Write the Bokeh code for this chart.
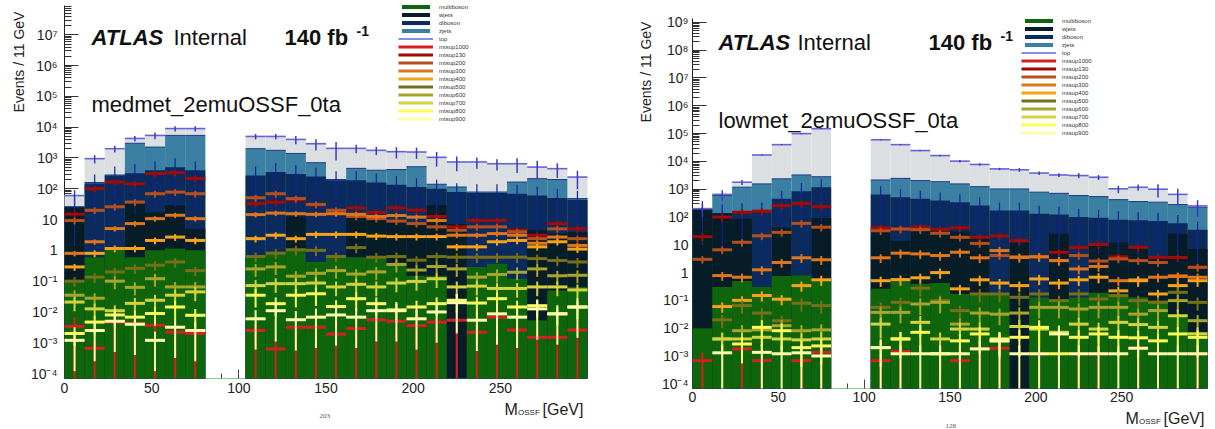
import numpy as np
from bokeh.plotting import figure
from bokeh.layouts import row, column
from bokeh.models import (ColumnDataSource, FixedTicker, Label, Legend, LegendItem, Range1d)
from bokeh.embed import file_html
from bokeh.resources import INLINE

nan = float("nan")

# ---------------- data ----------------
n_bins = 26
x_max = 300.0

bkg_names = ["multiboson", "wjets", "diboson", "zjets", "top"]
bkg_colors = ["#0e650c", "#061c27", "#0b2b5f", "#3b80a2", "#dcdfe2"]
sig_names = ["mtsup1000", "mtsup130", "mtsup200", "mtsup300", "mtsup400",
             "mtsup500", "mtsup600", "mtsup700", "mtsup800", "mtsup900"]
sig_colors = ["#d42020", "#9e0b0b", "#b5501e", "#e0761c", "#f7a21b",
              "#76701a", "#a7a52a", "#d3d33e", "#fbfb5a", "#fdfdaa"]

# medmet_2emuOSSF_0ta (left)
med_multiboson = [0.1, 0.6, 1.15, 0.6, 1.0, 1.15, 1.0, 0, 0, 0.7, 0.9, 1.0, 0.42, 0.7, 0.6, 0.6, 0.37, 0.15, 0.15, 0, 0.29, 0.37, 0.12, 0.0054, 0.05, 0.065]
med_wjets = [25, 0, 0, 32, 16, 28, 4, 0, 0, 0, 0, 11.6, 0, 0, 13.4, 10.4, 8.6, 7.9, 29, 7, 0, 0, 0, 4.5, 3.5, 3.9]
med_diboson = [1, 149, 269, 287, 383, 471, 395, 0, 0, 269, 349, 287, 250, 189, 176, 149, 126, 106, 71, 71, 72, 72, 69, 56, 47, 40]
med_zjets = [0, 10, 10, 2680, 1850, 4900, 5000, 0, 0, 1730, 1420, 1100, 450, 10, 270, 240, 285, 406, 40, 36, 6, 6, 96, 152, 149, 4]
med_top = [34, 790, 1720, 1300, 3150, 3600, 3600, 0, 0, 3000, 3230, 2600, 2200, 1850, 1590, 1370, 1180, 1040, 910, 626, 662, 572, 485, 293, 250, 192]
med_total_relerr = [0.5, 0.3, 0.25, 0.2, 0.25, 0.2, 0.2, nan, nan, 0.2, 0.2, 0.3, 0.4, 0.6, 0.3, 0.3, 0.4, 0.4, 0.5, 0.5, 0.4, 0.4, 0.5, 0.6, 0.5, 0.6]

med_mtsup1000 = [0.0034, 0.00066, 0.0047, 0.0043, 0.0037, 0.0022, 0.002, nan, nan, 0.0025, 0.00063, 0.0032, 0.0032, 0.0019, 0.0029, 0.0056, 0.005, 0.0036, 0.0047, 0.0054, 0.0022, 0.0068, 0.0026, 0.0015, 0.0015, 0.0026]
med_mtsup130 = [15, 100, 165, 145, 310, 330, 215, nan, nan, 33, 37, 44, 30, 17, 24, 17, 24, 20, 12.6, 5.8, 9.3, 9.3, 4.5, 3.1, 7.4, 5.0]
med_mtsup200 = [9.3, 20, 26, 37, 69, 78, 69, nan, nan, 51, 69, 48, 31, 20, 12.6, 10.7, 8.9, 7.4, 5.8, 4.5, 5.8, 5.8, 4.0, 2.4, 5.0, 2.4]
med_mtsup300 = [0.8, 1.9, 5.1, 7.4, 10.7, 13.8, 10.7, nan, nan, 14.5, 16.2, 15.5, 14.8, 15.5, 14.8, 12.6, 13.5, 12.0, 9.3, 3.1, 3.1, 3.5, 3.1, 1.7, 2.7, 1.45]
med_mtsup400 = [0.29, 0.8, 1.15, 1.15, 2.1, 2.7, 2.1, nan, nan, 2.4, 3.1, 2.4, 3.3, 3.3, 3.3, 2.9, 2.8, 2.8, 2.8, 1.3, 1.3, 1.9, 2.1, 1.3, 1.9, 1.1]
med_mtsup500 = [0.1, 0.135, 0.2, 0.26, 0.33, 0.42, 0.22, nan, nan, 0.63, 0.81, 1.05, 1.0, 0.63, 1.23, 0.6, 0.63, 0.48, 0.63, 0.6, 0.6, 0.6, 0.6, 0.54, 0.47, 0.42]
med_mtsup600 = [0.035, 0.028, 0.1, 0.063, 0.12, 0.065, 0.065, nan, nan, 0.25, 0.29, 0.145, 0.18, 0.22, 0.17, 0.2, 0.35, 0.23, 0.3, 0.25, 0.135, 0.165, 0.195, 0.25, 0.15, 0.155]
med_mtsup700 = [0.021, 0.0126, 0.011, 0.019, 0.024, 0.035, 0.045, nan, nan, 0.072, 0.083, 0.083, 0.087, 0.065, 0.079, 0.065, 0.087, 0.098, 0.12, 0.065, 0.069, 0.058, 0.058, 0.065, 0.065, 0.052]
med_mtsup800 = [0.002, 0.0047, 0.008, 0.0068, 0.0089, 0.0145, 0.0078, nan, nan, 0.035, 0.0186, 0.035, 0.039, 0.015, 0.027, 0.0186, 0.0117, 0.0145, 0.0186, 0.024, 0.0195, 0.027, 0.0145, 0.016, 0.0087, 0.0145]
med_mtsup900 = [0.0012, 0.0025, 0.005, 0.004, 0.0012, 0.0032, 0.0025, nan, nan, 0.006, 0.011, 0.0056, 0.0068, 0.008, 0.0068, 0.011, 0.011, 0.006, 0.01, 0.02, 0.0054, 0.0087, 0.0068, 0.0126, 0.0087, 0.0145]
med_sig_relerr = [1.0, 0.25, 0.25, 0.2, 0.25, 0.35, 0.45, 0.5, 0.6, 0.9]

# lowmet_2emuOSSF_0ta (right)
low_multiboson = [0.01, 0.3, 0.5, 0.3, 0.75, 0.8, 0.5, 0, 0, 0.26, 0.5, 0.4, 0.42, 0.17, 0.18, 0.17, 0, 0.13, 0.1, 0.13, 0.19, 0.17, 0.13, 0.1, 0.025, 0.007]
low_wjets = [185, 130, 85, 0, 42, 0, 92, 0, 0, 37, 13.5, 32, 32, 30, 16, 0, 12, 0, 25, 0, 8.8, 12, 8.9, 3.4, 25, 7]
low_diboson = [7, 10, 75, 170, 408, 850, 1090, 0, 0, 613, 497, 418, 358, 310, 241, 170, 158, 130, 98, 100, 84, 68, 67, 68, 35, 28]
low_zjets = [3, 450, 1020, 1380, 1900, 2400, 1620, 0, 0, 1490, 1940, 1590, 1470, 1210, 973, 850, 850, 650, 587, 490, 447, 340, 284, 269, 220, 190]
low_top = [5, 60, 600, 15450, 37650, 96750, 147200, 0, 0, 57860, 37550, 22460, 14340, 8650, 6530, 4350, 3980, 3020, 2530, 2500, 2150, 610, 810, 660, 370, 25]
low_total_relerr = [0.5, 0.4, 0.2, 0.05, 0.05, 0.05, 0.05, nan, nan, 0.05, 0.05, 0.05, 0.08, 0.1, 0.1, 0.1, 0.15, 0.15, 0.15, 0.2, 0.2, 0.3, 0.25, 0.5, 0.6, 0.6]

low_mtsup1000 = [0.00068, nan, 0.0018, 0.00068, nan, 0.00068, 0.00135, nan, nan, 0.00068, 0.00145, nan, nan, 0.00068, 0.0018, 0.0019, nan, 0.0012, nan, 0.0012, 0.0012, nan, 0.0019, nan, nan, 0.0012]
low_mtsup130 = [19.5, 100, 148, 162, 257, 309, 234, nan, nan, 41, 36, 43, 36, 41, 18.6, 21, 14, 3.7, 5.4, 8.1, 10.2, 3.7, 8.1, 3.5, 3.5, 1.55]
low_mtsup200 = [3.0, 6.6, 12.3, 21, 28, 59, 43, nan, nan, 32, 37, 35, 26, 18.6, 11.2, 4.1, 3.7, 3.7, 2.7, 4.1, 2.6, 3.1, 2.7, 2.3, 0.78, 1.55]
low_mtsup300 = [nan, 0.78, 0.68, 1.26, 2.3, 3.4, 2.9, nan, nan, 3.4, 5.0, 4.7, 4.1, 5.4, 3.4, 6.2, 3.5, 3.7, 2.7, 1.35, 1.66, 0.51, 0.55, 0.68, 0.72, 0.68]
low_mtsup400 = [nan, 0.06, 0.1, 0.15, 0.11, 0.34, 0.55, nan, nan, 0.51, 0.56, 0.65, 1.0, 0.26, 0.55, 0.42, 0.34, 0.59, 0.42, 0.55, 0.68, 0.22, 0.51, 0.17, 0.34, 0.51]
low_mtsup500 = [nan, 0.02, 0.065, 0.035, 0.0186, 0.079, 0.065, nan, nan, 0.056, 0.085, 0.275, 0.098, 0.043, 0.17, 0.17, 0.129, 0.17, 0.098, 0.17, 0.112, 0.148, 0.098, 0.085, 0.195, 0.085]
low_mtsup600 = [nan, 0.0041, 0.0081, 0.0087, 0.0123, 0.0081, 0.0087, nan, nan, 0.037, 0.037, 0.074, 0.085, 0.014, 0.035, 0.032, 0.035, 0.056, 0.056, 0.049, 0.056, 0.056, 0.032, 0.043, 0.098, 0.0186]
low_mtsup700 = [nan, 0.0041, 0.0041, 0.0047, 0.0041, 0.0038, 0.0041, nan, nan, 0.014, 0.0041, 0.0162, 0.0041, 0.0093, 0.0093, 0.0035, 0.0115, 0.0093, 0.0071, 0.014, 0.0093, 0.0162, 0.0135, 0.0107, 0.028, 0.0063]
low_mtsup800 = [nan, nan, 0.0027, 0.0107, 0.0081, 0.002, 0.0023, nan, nan, 0.002, 0.0041, 0.0071, 0.0012, 0.0035, 0.0062, 0.0041, 0.0047, 0.0107, 0.0012, 0.0047, 0.0062, 0.0047, 0.0045, 0.0035, 0.0062, 0.0047]
low_mtsup900 = [nan, 0.0013, nan, 0.00135, 0.0012, 0.0013, 0.001, nan, nan, 0.002, 0.0012, 0.0012, 0.0012, 0.0012, 0.0018, 0.0035, 0.0012, 0.0012, 0.0062, 0.0012, 0.0012, 0.0012, 0.0019, 0.0012, 0.0012, 0.0012]
low_sig_relerr = [1.0, 0.3, 0.3, 0.35, 0.4, 0.5, 0.6, 0.7, 0.8, 1.0]

y_major_exponents = list(range(-4, 10))
x_major_ticks = [0, 50, 100, 150, 200, 250]

FONT = "Liberation Sans"
SUP = str.maketrans("-0123456789", "⁻⁰¹²³⁴⁵⁶⁷⁸⁹")
LVL = "annotation"   # histograms are drawn above the axis ticks, as ROOT does


def exp_label(k):
    if k == 0:
        return "1"
    if k == 1:
        return "10"
    return "10" + str(k).translate(SUP)


def add_label(p, text, x, y, size, style="normal", font=FONT, color="#111", align="left",
              baseline="alphabetic", **kw):
    p.add_layout(Label(x=x, y=y, x_units="screen", y_units="screen", text=text,
                       text_font=font, text_font_size=size, text_font_style=style,
                       text_color=color, text_baseline=baseline, text_align=align, **kw))


def text_fig(w, h):
    f = figure(width=w, height=h, x_range=Range1d(0, 1), y_range=Range1d(0, 1),
               x_axis_location=None, y_axis_location=None, output_backend="svg",
               toolbar_location=None, min_border=0)
    f.xgrid.visible = False
    f.ygrid.visible = False
    f.outline_line_color = None
    f.background_fill_color = "white"
    f.border_fill_color = "white"
    return f


def make_panel(spec):
    edges = np.linspace(0.0, x_max, n_bins + 1)
    lo, hi = edges[:-1], edges[1:]
    ctr = 0.5 * (lo + hi)
    floor = spec["ylo"]

    p = figure(width=spec["width"], height=spec["height"],
               x_range=Range1d(0, x_max),
               y_range=Range1d(spec["ylo"], spec["yhi"]),
               y_axis_type="log", output_backend="svg", toolbar_location=None,
               min_border_left=spec["bl"], min_border_right=spec["br"],
               min_border_top=spec["bt"], min_border_bottom=spec["bb"])
    p.xgrid.visible = False
    p.ygrid.visible = False
    p.outline_line_color = None
    p.background_fill_color = "white"
    p.border_fill_color = "white"

    xa = p.xaxis[0]
    xa.ticker = FixedTicker(ticks=x_major_ticks,
                            minor_ticks=[v for v in range(0, 301, 10) if v % 50])
    xa.major_tick_in, xa.major_tick_out = 9, 0
    xa.minor_tick_in, xa.minor_tick_out = 5, 0
    xa.axis_line_color = "#8cc88c"
    xa.major_tick_line_color = "#444"
    xa.minor_tick_line_color = "#444"
    xa.major_label_text_font = FONT
    xa.major_label_text_font_size = "14px"
    xa.major_label_text_color = "#222"
    xa.major_label_standoff = spec["xstand"]

    ya = p.yaxis[0]
    ya.ticker = FixedTicker(ticks=[10.0 ** k for k in y_major_exponents],
                            minor_ticks=[m * 10.0 ** k for k in range(-5, 10) for m in range(2, 10)])
    ya.major_label_overrides = {10.0 ** k: exp_label(k) for k in y_major_exponents}
    ya.major_tick_in, ya.major_tick_out = 14, 0
    ya.minor_tick_in, ya.minor_tick_out = 7, 0
    ya.axis_line_color = "#222"
    ya.major_tick_line_color = "#333"
    ya.minor_tick_line_color = "#333"
    ya.major_label_text_font = FONT
    ya.major_label_text_font_size = "14px"
    ya.major_label_text_color = "#222"
    ya.major_label_standoff = spec["ystand"]

    # stacked backgrounds, drawn ROOT style (cumulative sums, largest first)
    layers = np.array(spec["bkg"], dtype=float)
    cum = np.cumsum(layers, axis=0)
    bkg_r = [None] * 5
    for k in reversed(range(5)):
        m = cum[k] > 0
        src = ColumnDataSource(dict(l=lo[m], r=hi[m], t=cum[k][m], b=np.full(m.sum(), floor)))
        bkg_r[k] = p.quad(left="l", right="r", top="t", bottom="b", source=src,
                          fill_color=bkg_colors[k], line_color=None, level=LVL)

    m = cum[3] > 0
    p.segment(x0=lo[m], x1=hi[m], y0=cum[3][m], y1=cum[3][m], line_color="#1d3c86",
              line_width=1, level=LVL)
    tot = cum[4]
    m = tot > 0
    top_line = p.segment(x0=lo[m], x1=hi[m], y0=tot[m], y1=tot[m], line_color="#6464d4",
                         line_width=1.6, level=LVL)

    dib = cum[2]
    md = dib > 0
    p.segment(x0=ctr[md], x1=ctr[md], y0=np.maximum(dib[md] * 0.05, floor), y1=dib[md] * 1.95,
              line_color="#13239a", line_width=1.2, level=LVL)
    rel = np.array(spec["toterr"], dtype=float)
    mt = (tot > 0) & np.isfinite(rel)
    p.segment(x0=ctr[mt], x1=ctr[mt], y0=np.maximum(tot[mt] * (1 - rel[mt]), floor),
              y1=tot[mt] * (1 + rel[mt]), line_color="#3a3ac8", line_width=1.5, level=LVL)

    sig_r = []
    for name, color, vals, e in zip(sig_names, sig_colors, spec["sig"], spec["sigerr"]):
        v = np.array(vals, dtype=float)
        ms = np.isfinite(v) & (v > 0)
        src = ColumnDataSource(dict(x0=lo[ms], x1=hi[ms], xc=ctr[ms], y=v[ms],
                                    ylo=np.maximum(v[ms] * (1 - e), floor), yhi=v[ms] * (1 + e)))
        p.segment(x0="xc", x1="xc", y0="ylo", y1="yhi", source=src, line_color=color,
                  line_width=2, level=LVL)
        r = p.segment(x0="x0", x1="x1", y0="y", y1="y", source=src, line_color=color,
                      line_width=3, level=LVL)
        sig_r.append(r)

    items = [LegendItem(label=bkg_names[k], renderers=[bkg_r[k]]) for k in range(4)]
    items.append(LegendItem(label=bkg_names[4], renderers=[top_line]))
    items += [LegendItem(label=n, renderers=[r]) for n, r in zip(sig_names, sig_r)]
    legend = Legend(items=items, location=spec["legloc"], orientation="vertical",
                    label_text_font=FONT, label_text_font_size="6px", label_text_color="#333",
                    glyph_width=35, glyph_height=5, label_height=7, label_standoff=6,
                    spacing=1, padding=0, margin=0, border_line_color=None,
                    background_fill_alpha=0)
    p.add_layout(legend)

    ax0, ay0 = spec["atlas_xy"]
    add_label(p, "ATLAS", ax0, ay0, "22px", "bold italic")
    add_label(p, "Internal", spec["internal_x"], ay0, "22px")
    add_label(p, "140 fb", spec["lumi_x"], ay0, "22px", "bold")
    add_label(p, "-1", spec["lumi_x"] + 72, ay0 + 7, "14px", "bold")
    add_label(p, spec["region"], ax0, spec["region_y"], "22px")

    # y-axis title (left strip), anchored at the centre of the text
    side = text_fig(spec["side_w"], 429)
    add_label(side, "Events / 11 GeV", spec["ylab_xy"][0], spec["ylab_xy"][1], "14px",
              color="#222", align="center", baseline="middle", angle=np.pi / 2)

    # x-axis title and page number (bottom strip; its frame lines up with the plot frame)
    foot = text_fig(spec["width"], 429 - spec["height"])
    mx, my = spec["mlab_xy"]
    add_label(foot, "M", mx, my, "16px", color="#222")
    add_label(foot, "OSSF", mx + 13.5, my - 3, "8px", color="#222")
    add_label(foot, "[GeV]", mx + 38, my, "16px", color="#222")
    add_label(foot, spec["page"], spec["page_xy"][0], spec["page_xy"][1], "7px",
              font="Liberation Serif", color="#555")

    return row(side, column(p, foot))


left = make_panel(dict(
    side_w=27, width=580, height=400, ylo=10 ** -4.16, yhi=10 ** 7.95,
    bl=36, br=20, bt=5, bb=22, xstand=4, ystand=7,
    bkg=[med_multiboson, med_wjets, med_diboson, med_zjets, med_top],
    toterr=med_total_relerr,
    sig=[med_mtsup1000, med_mtsup130, med_mtsup200, med_mtsup300, med_mtsup400,
         med_mtsup500, med_mtsup600, med_mtsup700, med_mtsup800, med_mtsup900],
    sigerr=med_sig_relerr,
    legloc=(334, 256), atlas_xy=(27, 341), internal_x=109, lumi_x=220,
    region="medmet_2emuOSSF_0ta", region_y=274, ylab_xy=(18.5, 367.5),
    mlab_xy=(440, 20), page="203", page_xy=(255, 14)))

right = make_panel(dict(
    side_w=47, width=561, height=408, ylo=10 ** -4.17, yhi=10 ** 9.14,
    bl=38, br=8, bt=18, bb=20, xstand=3, ystand=4,
    bkg=[low_multiboson, low_wjets, low_diboson, low_zjets, low_top],
    toterr=low_total_relerr,
    sig=[low_mtsup1000, low_mtsup130, low_mtsup200, low_mtsup300, low_mtsup400,
         low_mtsup500, low_mtsup600, low_mtsup700, low_mtsup800, low_mtsup900],
    sigerr=low_sig_relerr,
    legloc=(329, 252), atlas_xy=(26, 346), internal_x=105, lumi_x=236,
    region="lowmet_2emuOSSF_0ta", region_y=268, ylab_xy=(38, 357.5),
    mlab_xy=(433, 11), page="128", page_xy=(253, 4)))

layout = row(left, right)
open("out.html", "w").write(file_html(layout, INLINE, title="ATLAS Internal"))
